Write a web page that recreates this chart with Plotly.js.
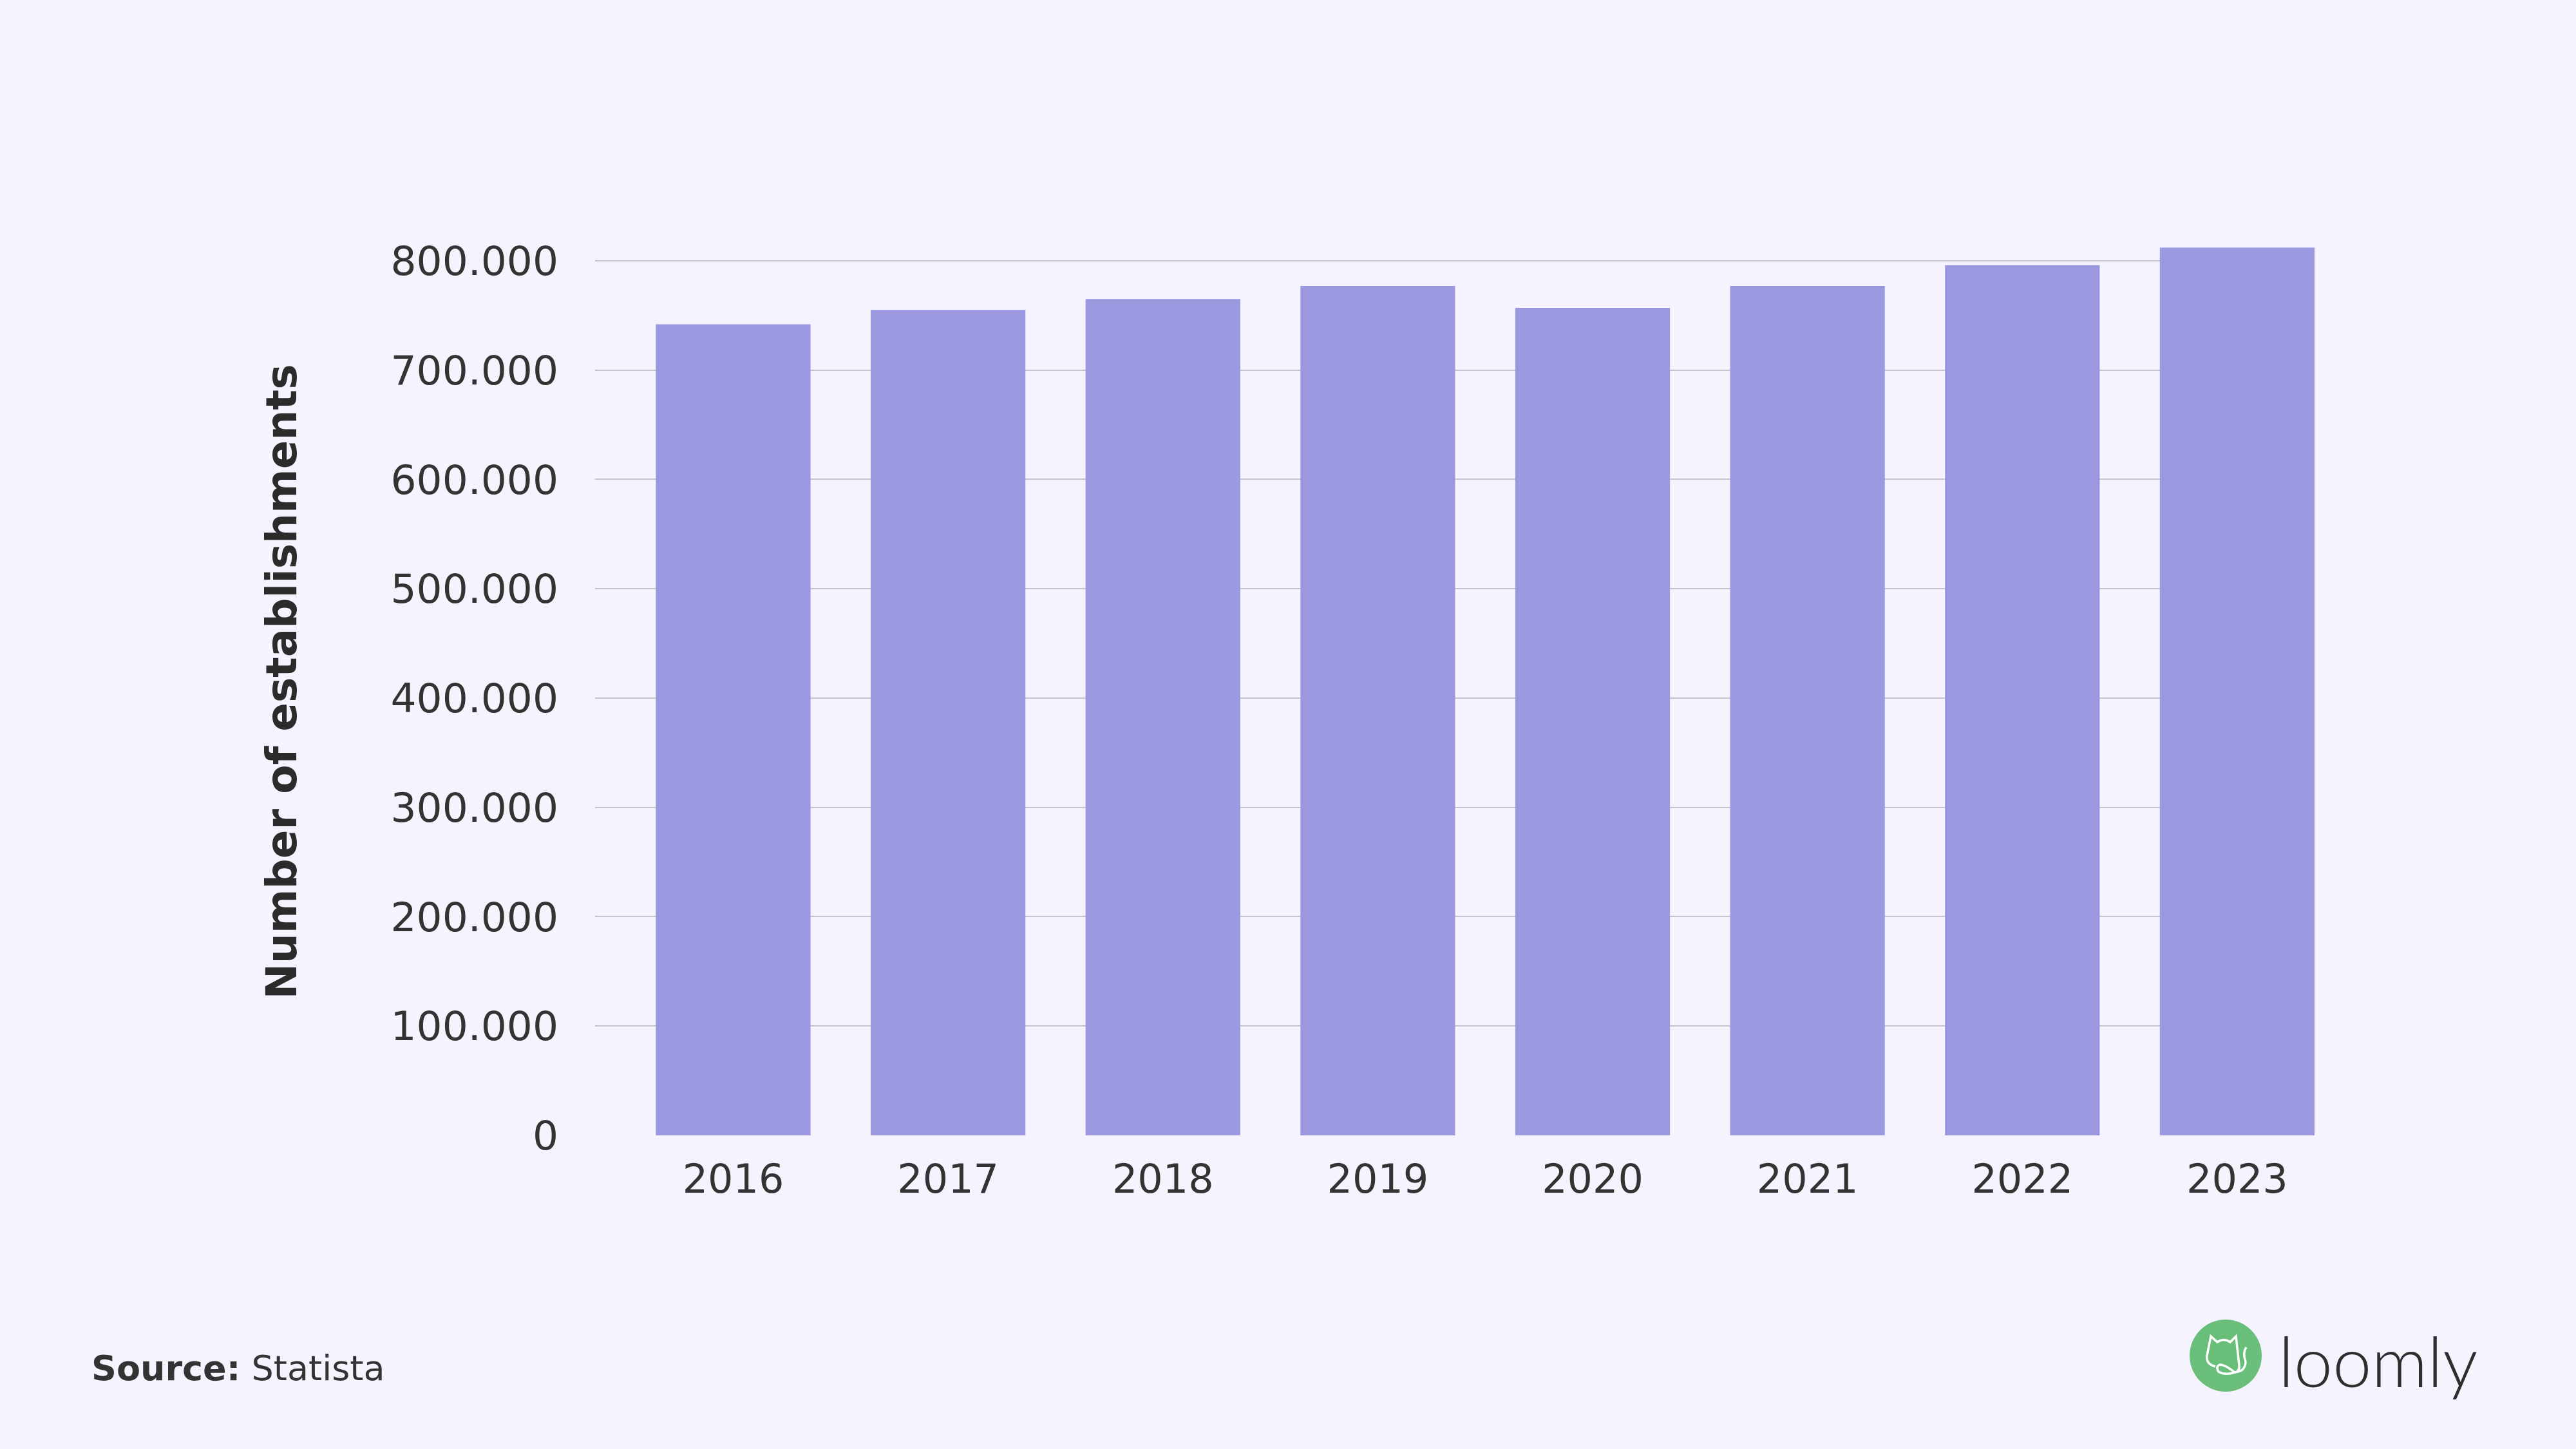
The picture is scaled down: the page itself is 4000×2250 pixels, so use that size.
<!DOCTYPE html>
<html>
<head>
<meta charset="utf-8">
<script src="https://cdn.plot.ly/plotly-3.0.1.min.js"></script>
<style>
  html, body { margin: 0; padding: 0; background: #F4F3FE; }
  #chart { width: 4000px; height: 2250px; }
</style>
</head>
<body>
<div id="chart"></div>
<script>
// ---- Data ----
const years = ["2016", "2017", "2018", "2019", "2020", "2021", "2022", "2023"];
const establishments = [742000, 755000, 765000, 777000, 757000, 777000, 796000, 812000];
const yTickValues = [0, 100000, 200000, 300000, 400000, 500000, 600000, 700000, 800000];
const yTickLabels = ["0", "100.000", "200.000", "300.000", "400.000", "500.000", "600.000", "700.000", "800.000"];
const yAxisTitle = "Number of establishments";
const sourceLabel = "Source:";
const sourceName = "Statista";
const brandName = "loomly";

// ---- Geometry helpers (pixel -> paper) ----
const W = 4000, H = 2250;
const M = { l: 924, r: 406, t: 354, b: 487 };
const PW = W - M.l - M.r, PH = H - M.t - M.b;
const px = x => (x - M.l) / PW;
const py = y => (H - M.b - y) / PH;
const P = (x, y) => px(x).toFixed(5) + ',' + py(y).toFixed(5);

const catPath =
  'M ' + P(3440, 2122) +
  ' Q ' + P(3425, 2118) + ' ' + P(3427, 2105) +
  ' L ' + P(3433, 2075) +
  ' L ' + P(3443, 2084) +
  ' Q ' + P(3453, 2077) + ' ' + P(3463, 2084) +
  ' L ' + P(3472, 2075) +
  ' L ' + P(3477, 2120) +
  ' Q ' + P(3478, 2130) + ' ' + P(3470, 2131) +
  ' Q ' + P(3455, 2119) + ' ' + P(3447, 2119) +
  ' Q ' + P(3440, 2122) + ' ' + P(3445, 2130) +
  ' Q ' + P(3455, 2136) + ' ' + P(3470, 2131) +
  ' Q ' + P(3486, 2130) + ' ' + P(3487, 2115) +
  ' Q ' + P(3482, 2100) + ' ' + P(3488, 2092);

const trace = {
  type: 'bar',
  x: years,
  y: establishments,
  marker: { color: '#9B98E0', line: { width: 0 } },
  hoverinfo: 'x+y'
};

const layout = {
  width: W, height: H,
  paper_bgcolor: '#F4F3FE',
  plot_bgcolor: '#F4F3FE',
  margin: { l: M.l, r: M.r, t: M.t, b: M.b, pad: 0 },
  showlegend: false,
  bargap: 0.28,
  font: { family: 'DejaVu Sans, sans-serif', color: '#333333' },
  xaxis: {
    type: 'category',
    range: [-0.643, 7.36],
    showgrid: false, zeroline: false, showline: false,
    ticks: '',
    tickfont: { size: 62, color: '#333333', family: 'DejaVu Sans, sans-serif' },
    ticklabelstandoff: 26,
    fixedrange: true
  },
  yaxis: {
    range: [0, 830000],
    tickmode: 'array',
    tickvals: yTickValues,
    ticktext: yTickLabels,
    showgrid: true, gridcolor: '#C6C5CE', gridwidth: 2,
    zeroline: false, showline: false,
    ticks: '',
    tickfont: { size: 63, color: '#333333', family: 'DejaVu Sans, sans-serif' },
    ticklabelstandoff: 56,
    title: {
      text: '<b>' + yAxisTitle + '</b>',
      font: { size: 66, color: '#2B2B2B', family: 'DejaVu Sans, sans-serif' },
      standoff: 124
    },
    fixedrange: true
  },
  shapes: [
    {
      type: 'circle', xref: 'paper', yref: 'paper',
      x0: px(3400), x1: px(3512), y0: py(2161), y1: py(2049),
      fillcolor: '#69BF7A', line: { width: 0 }
    },
    {
      type: 'path', xref: 'paper', yref: 'paper',
      path: catPath,
      line: { color: '#FFFFFF', width: 3.5 }
    }
  ],
  annotations: [
    {
      xref: 'paper', yref: 'paper',
      x: px(140), y: py(2124),
      xanchor: 'left', yanchor: 'middle',
      text: '<b>' + sourceLabel + '</b> ' + sourceName,
      showarrow: false,
      font: { size: 54, color: '#333333', family: 'DejaVu Sans, sans-serif' }
    },
    {
      xref: 'paper', yref: 'paper',
      x: px(3536), y: py(2112),
      xanchor: 'left', yanchor: 'middle',
      text: brandName,
      showarrow: false,
      font: { size: 108, color: '#2E2E2E', family: 'Lato, sans-serif', weight: 300 }
    }
  ]
};

Plotly.newPlot('chart', [trace], layout, { displayModeBar: false, staticPlot: true });
</script>
</body>
</html>
